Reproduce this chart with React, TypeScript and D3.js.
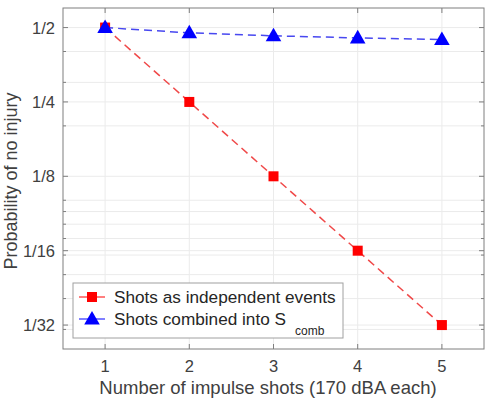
import React from "react";
import * as d3 from "d3";

const shots = [1, 2, 3, 4, 5];
const independent = [1 / 2, 1 / 4, 1 / 8, 1 / 16, 1 / 32];
const combined = [0.5, 0.476, 0.463, 0.454, 0.447];
const yTickValues = [1 / 32, 1 / 16, 1 / 8, 1 / 4, 1 / 2];
const yTickLabels = ["1/32", "1/16", "1/8", "1/4", "1/2"];
const yMinorValues = [0.03, 0.04, 0.05, 0.06, 0.07, 0.08, 0.09, 0.1, 0.2, 0.3, 0.4];
const xTickValues = [1, 2, 3, 4, 5];
const legendLabels = ["Shots as independent events", "Shots combined into S"];

const W = 489, H = 398;
const L = 63, R = 484, T = 8, B = 349;
const FONT = "'Liberation Sans', Arial, Helvetica, sans-serif";

export default function App() {
  const x = d3.scaleLinear().domain([0.5, 5.5]).range([L, R]);
  const y = d3.scaleLog().base(2).domain([0.025, 0.6]).range([B, T]);
  const line = d3.line<number>().x((_, i) => x(shots[i])).y((d) => y(d));
  const axisColor = "#7f7f7f";
  const gridColor = "#ebebeb";
  const tick = 5;
  const legX = 73, legY = 283, legW = 270, legH = 55;
  const row1 = 297, row2 = 319;
  const tri = (cx: number, cy: number, s: number) =>
    `M${cx},${cy - s * 0.62} L${cx + s * 0.6},${cy + s * 0.42} L${cx - s * 0.6},${cy + s * 0.42} Z`;

  return (
    <svg width={W} height={H} style={{ position: "absolute", left: 0, top: 0, background: "#fff" }} fontFamily={FONT}>
      <rect x={0} y={0} width={W} height={H} fill="#fff" />
      {/* grid */}
      {yMinorValues.map((v, i) => (
        <line key={"gm" + i} x1={L} x2={R} y1={y(v)} y2={y(v)} stroke={gridColor} strokeWidth={1} />
      ))}
      {yTickValues.map((v, i) => (
        <line key={"gy" + i} x1={L} x2={R} y1={y(v)} y2={y(v)} stroke={gridColor} strokeWidth={1} />
      ))}
      {xTickValues.map((v, i) => (
        <line key={"gx" + i} x1={x(v)} x2={x(v)} y1={T} y2={B} stroke={gridColor} strokeWidth={1} />
      ))}
      {/* box */}
      <rect x={L} y={T} width={R - L} height={B - T} fill="none" stroke={axisColor} strokeWidth={1} />
      {/* ticks */}
      {xTickValues.map((v, i) => (
        <g key={"tx" + i}>
          <line x1={x(v)} x2={x(v)} y1={B} y2={B - tick} stroke={axisColor} />
          <line x1={x(v)} x2={x(v)} y1={T} y2={T + tick} stroke={axisColor} />
          <text x={x(v)} y={372} textAnchor="middle" fontSize={16.5} fill="#404040">{v}</text>
        </g>
      ))}
      {yTickValues.map((v, i) => (
        <g key={"ty" + i}>
          <line x1={L} x2={L + tick} y1={y(v)} y2={y(v)} stroke={axisColor} />
          <line x1={R} x2={R - tick} y1={y(v)} y2={y(v)} stroke={axisColor} />
          <text x={55} y={y(v) + 6} textAnchor="end" fontSize={16.5} fill="#404040">{yTickLabels[i]}</text>
        </g>
      ))}
      {yMinorValues.map((v, i) => (
        <g key={"tm" + i}>
          <line x1={L} x2={L + 3} y1={y(v)} y2={y(v)} stroke={axisColor} />
          <line x1={R} x2={R - 3} y1={y(v)} y2={y(v)} stroke={axisColor} />
        </g>
      ))}
      {/* axis labels */}
      <text x={268} y={394} textAnchor="middle" fontSize={18.5} fill="#404040">
        Number of impulse shots (170 dBA each)
      </text>
      <text transform={`translate(17,181) rotate(-90)`} textAnchor="middle" fontSize={18} fill="#404040">
        Probability of no injury
      </text>
      {/* series */}
      <path d={line(independent) || ""} fill="none" stroke="#f04848" strokeWidth={1.5} strokeDasharray="8,5" />
      <path d={line(combined) || ""} fill="none" stroke="#4848f0" strokeWidth={1.5} strokeDasharray="8,5" />
      {independent.map((v, i) => (
        <rect key={"r" + i} x={x(shots[i]) - 5} y={y(v) - 5} width={10} height={10} fill="#ff0000" />
      ))}
      {combined.map((v, i) => (
        <path key={"b" + i} d={tri(x(shots[i]), y(v), 13)} fill="#0000ff" />
      ))}
      {/* legend */}
      <rect x={legX} y={legY} width={legW} height={legH} fill="#fff" stroke="#a0a0a0" strokeWidth={1} />
      <line x1={79} x2={105} y1={row1} y2={row1} stroke="#ff0000" strokeWidth={1} />
      <rect x={92 - 5} y={row1 - 5} width={10} height={10} fill="#ff0000" />
      <line x1={79} x2={105} y1={row2} y2={row2} stroke="#0000ff" strokeWidth={1} />
      <path d={tri(92, row2, 13)} fill="#0000ff" />
      <text x={114} y={row1 + 6} fontSize={17.2} fill="#262626">{legendLabels[0]}</text>
      <text x={114} y={row2 + 6} fontSize={17.2} fill="#262626">
        {legendLabels[1]}
        <tspan dx={9} dy={10} fontSize={12}>comb</tspan>
      </text>
    </svg>
  );
}
